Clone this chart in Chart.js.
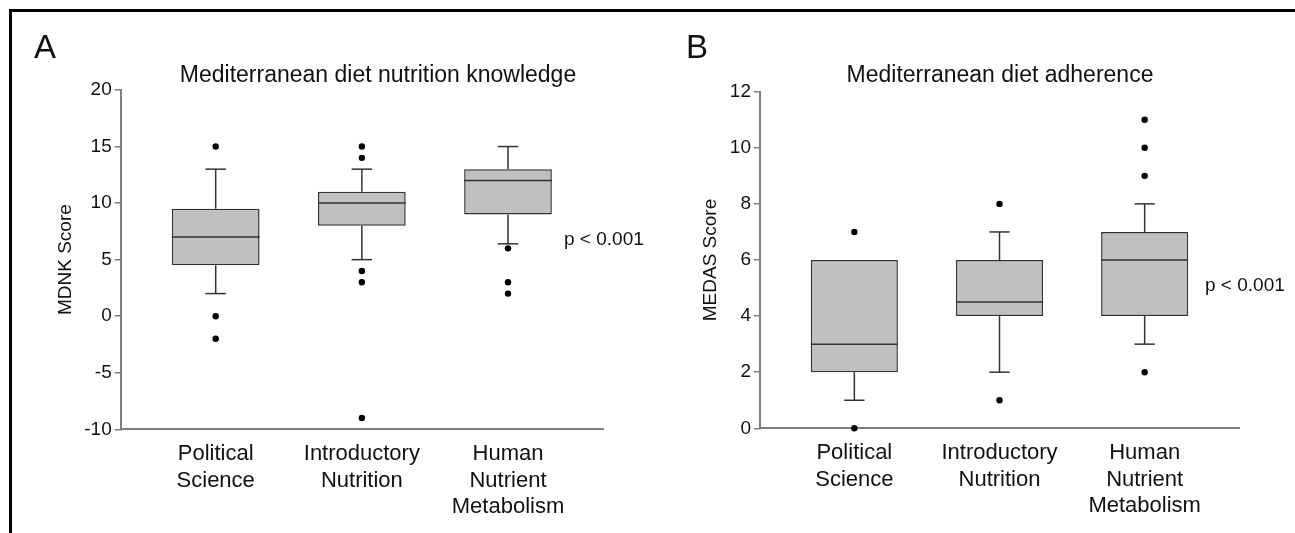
<!DOCTYPE html>
<html>
<head>
<meta charset="utf-8">
<script src="https://cdn.jsdelivr.net/npm/chart.js@4.4.1/dist/chart.umd.min.js"></script>
<style>
  html, body { margin: 0; padding: 0; background: #fff; }
  body { width: 1295px; height: 533px; position: relative; overflow: hidden; }
  #frame { position: absolute; left: 9px; top: 9px; width: 1300px; height: 600px; border-left: 3px solid #000; border-top: 3px solid #000; }
  canvas { position: absolute; top: 0; }
  #chartA { left: 0; }
  #chartB { left: 647px; }
</style>
</head>
<body>
<div id="frame"></div>
<canvas id="chartA" width="647" height="533"></canvas>
<canvas id="chartB" width="648" height="533"></canvas>
<script>
// Groups (x axis)
const groups = [['Political', 'Science'], ['Introductory', 'Nutrition'], ['Human', 'Nutrient', 'Metabolism']];

// Panel A: MDNK score
const mdnkQ1 = [4.5, 8, 9];
const mdnkMedian = [7, 10, 12];
const mdnkQ3 = [9.5, 11, 13];
const mdnkLow = [2, 5, 6.4];
const mdnkHigh = [13, 13, 15];
const mdnkOutliers = [[15, 0, -2], [15, 14, 4, 3, -9], [6, 3, 2]];
const mdnkTicks = [-10, -5, 0, 5, 10, 15, 20];

// Panel B: MEDAS score
const medasQ1 = [2, 4, 4];
const medasMedian = [3, 4.5, 6];
const medasQ3 = [6, 6, 7];
const medasLow = [1, 2, 3];
const medasHigh = [6, 7, 8];
const medasOutliers = [[7, 0], [8, 1], [11, 10, 9, 2]];
const medasTicks = [0, 2, 4, 6, 8, 10, 12];

Chart.defaults.font.family = '"Liberation Sans", Arial, sans-serif';
Chart.defaults.color = '#111';

const FONT = '"Liberation Sans", Arial, sans-serif';
const AXIS_GRAY = '#7f7f7f';
const LINE_DARK = '#333';

// whiskers + median lines, drawn through the chart scales
const boxExtras = {
  id: 'boxExtras',
  afterDatasetsDraw(chart, args, opts) {
    const { ctx } = chart;
    const x = chart.scales.x, y = chart.scales.y;
    const bars = chart.getDatasetMeta(0).data;
    ctx.save();
    ctx.strokeStyle = LINE_DARK;
    ctx.lineWidth = 1.5;
    const seg = (x1, y1, x2, y2) => { ctx.beginPath(); ctx.moveTo(x1, y1); ctx.lineTo(x2, y2); ctx.stroke(); };
    opts.median.forEach((m, i) => {
      const cx = x.getPixelForValue(i + 1);
      const half = bars[i].width / 2;
      const cap = x.getPixelForValue(i + 1 + opts.cap) - cx;
      const yMed = y.getPixelForValue(m);
      seg(cx - half, yMed, cx + half, yMed);
      const yHi = y.getPixelForValue(opts.high[i]), yQ3 = y.getPixelForValue(opts.q3[i]);
      const yLo = y.getPixelForValue(opts.low[i]), yQ1 = y.getPixelForValue(opts.q1[i]);
      if (opts.high[i] > opts.q3[i]) { seg(cx, yQ3, cx, yHi); seg(cx - cap, yHi, cx + cap, yHi); }
      if (opts.low[i] < opts.q1[i]) { seg(cx, yQ1, cx, yLo); seg(cx - cap, yLo, cx + cap, yLo); }
    });
    ctx.restore();
  },
  afterDraw(chart, args, opts) {
    const { ctx } = chart;
    ctx.save();
    ctx.fillStyle = '#111';
    ctx.textBaseline = 'alphabetic';
    ctx.textAlign = 'left';
    ctx.font = '33px ' + FONT;
    ctx.fillText(opts.letter, opts.letterX, 58);
    ctx.textAlign = 'center';
    ctx.font = '23px ' + FONT;
    ctx.fillText(opts.title, opts.titleX, 82);
    ctx.textAlign = 'left';
    ctx.textBaseline = 'middle';
    ctx.font = '19px ' + FONT;
    ctx.fillText('p < 0.001', opts.pX, opts.pY);
    ctx.restore();
  }
};

function makeBoxChart(id, cfg) {
  return new Chart(document.getElementById(id), {
    type: 'bar',
    data: {
      datasets: [{
        type: 'bar',
        data: cfg.q1.map((v, i) => ({ x: i + 1, y: [v, cfg.q3[i]] })),
        backgroundColor: '#c0c0c0',
        borderColor: LINE_DARK,
        borderWidth: 1.5,
        borderSkipped: false,
        barPercentage: 0.6,
        categoryPercentage: 1,
      }, {
        type: 'scatter',
        data: cfg.outliers.flatMap((arr, i) => arr.map(v => ({ x: i + 1, y: v }))),
        backgroundColor: '#000',
        borderWidth: 0,
        pointRadius: 3.2,
        clip: false,
      }],
    },
    options: {
      responsive: false,
      animation: false,
      events: [],
      layout: { padding: { left: cfg.padLeft, right: cfg.padRight, top: cfg.padTop, bottom: 0 } },
      plugins: {
        legend: { display: false },
        tooltip: { enabled: false },
        boxExtras: {
          median: cfg.median, q1: cfg.q1, q3: cfg.q3, low: cfg.low, high: cfg.high, cap: 0.07,
          letter: cfg.letter, letterX: cfg.letterX, title: cfg.title, titleX: cfg.titleX,
          pX: cfg.pX, pY: cfg.pY,
        },
      },
      scales: {
        x: {
          type: 'linear',
          min: 0.35,
          max: 3.65,
          offset: false,
          afterBuildTicks: s => { s.ticks = groups.map((g, i) => ({ value: i + 1 })); },
          afterFit: s => { s.height = cfg.xHeight; },
          grid: { display: false, drawTicks: false },
          border: { display: true, color: AXIS_GRAY, width: 2 },
          ticks: {
            autoSkip: false,
            maxRotation: 0,
            padding: 11,
            font: { size: 22, lineHeight: 1.22 },
            color: '#111',
            callback: v => groups[v - 1],
          },
        },
        y: {
          min: cfg.ticks[0],
          max: cfg.ticks[cfg.ticks.length - 1],
          afterFit: s => { s.width = cfg.yWidth; },
          grid: { drawOnChartArea: false, drawTicks: true, tickLength: 6, color: AXIS_GRAY, lineWidth: 1.5 },
          border: { display: true, color: AXIS_GRAY, width: 2 },
          ticks: { stepSize: cfg.ticks[1] - cfg.ticks[0], padding: 3, font: { size: 19 }, color: '#111' },
          title: { display: true, text: cfg.yTitle, font: { size: 19, lineHeight: 1.2 }, padding: 0, color: '#111' },
        },
      },
    },
    plugins: [boxExtras],
  });
}

makeBoxChart('chartA', {
  q1: mdnkQ1, median: mdnkMedian, q3: mdnkQ3, low: mdnkLow, high: mdnkHigh, outliers: mdnkOutliers,
  ticks: mdnkTicks, yTitle: 'MDNK Score',
  padLeft: 54.6, yWidth: 66.1, padRight: 44, padTop: 90, xHeight: 103.7,
  letter: 'A', letterX: 34, title: 'Mediterranean diet nutrition knowledge', titleX: 378,
  pX: 564, pY: 240,
});

makeBoxChart('chartB', {
  q1: medasQ1, median: medasMedian, q3: medasQ3, low: medasLow, high: medasHigh, outliers: medasOutliers,
  ticks: medasTicks, yTitle: 'MEDAS Score',
  padLeft: 52.6, yWidth: 60.4, padRight: 56, padTop: 91.7, xHeight: 104.7,
  letter: 'B', letterX: 39, title: 'Mediterranean diet adherence', titleX: 353,
  pX: 558, pY: 286,
});
</script>
</body>
</html>
